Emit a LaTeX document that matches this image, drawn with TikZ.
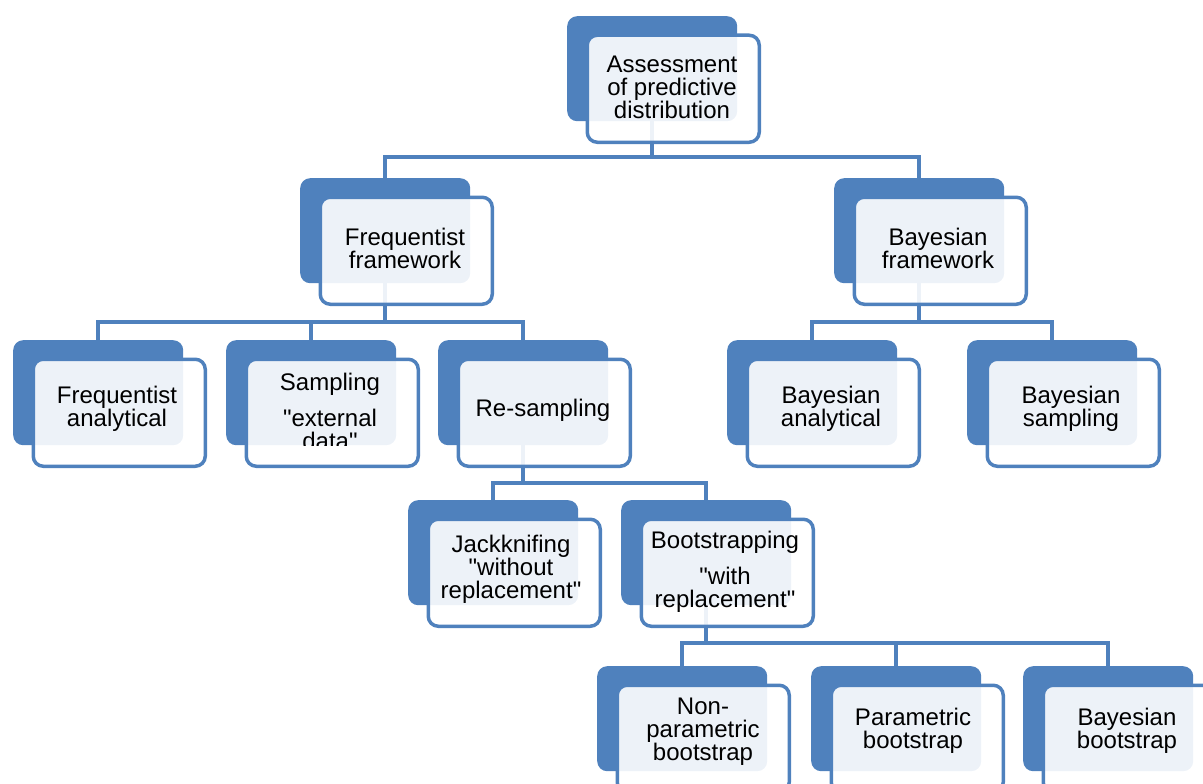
\documentclass[tikz,border=0pt]{standalone}
\usepackage{tikz}
\usepackage{fontspec}
\newfontfamily\arialf{Liberation Sans}
\definecolor{ob}{HTML}{4F81BD}
\pgfdeclarelayer{bg}
\pgfsetlayers{bg,main}
\tikzset{
  backbox/.style={draw=none, fill=ob, rounded corners=10pt, minimum width=170pt, minimum height=105pt, inner sep=0pt, anchor=north west},
  frontbox/.style={draw=ob, line width=3.5pt, fill=white, fill opacity=0.9, rounded corners=10pt, minimum width=172pt, minimum height=107pt, inner sep=0pt, anchor=north west},
  lbl/.style={align=center, font=\arialf\fontsize{24}{23}\selectfont, text=black, inner sep=0pt},
  conn/.style={draw=ob, line width=4pt},
}
\newcommand\twobox[3]{%
  \node[backbox] (#1b) at (#2,#3) {};
  \node[frontbox] (#1f) at ([shift={(18.5,17.5)}]#2,#3) {};}
\begin{document}
\begin{tikzpicture}[x=1pt,y=-1pt]
\useasboundingbox (0,0) rectangle (1203,784);
\clip (0,0) rectangle (1203,784);
% boxes
\twobox{root}{567}{16}
\twobox{FF}{300}{178}
\twobox{BF}{834}{178}
\twobox{FA}{13}{340}
\twobox{SA}{226}{340}
\twobox{RS}{438}{340}
\twobox{BA}{727}{340}
\twobox{BS}{967}{340}
\twobox{JK}{408}{500}
\twobox{BO}{621}{500}
\twobox{NP}{597}{666}
\twobox{PB}{811}{666}
\twobox{BB}{1023}{666}
% bus heights
\coordinate (busA) at (0,157);
\coordinate (busB) at (0,322);
\coordinate (busC) at (0,483);
\coordinate (busD) at (0,643);
% connectors
\begin{pgfonlayer}{bg}
\draw[conn] (rootb.center) -- (rootb.center |- busA);
\draw[conn] (FFb.north) -- (FFb.north |- busA) -- (BFb.north |- busA) -- (BFb.north);
\draw[conn] (FFb.center) -- (FFb.center |- busB);
\draw[conn] (FAb.north) -- (FAb.north |- busB) -- (RSb.north |- busB) -- (RSb.north);
\draw[conn] (SAb.north) -- (SAb.north |- busB);
\draw[conn] (BFb.center) -- (BFb.center |- busB);
\draw[conn] (BAb.north) -- (BAb.north |- busB) -- (BSb.north |- busB) -- (BSb.north);
\draw[conn] (RSb.center) -- (RSb.center |- busC);
\draw[conn] (JKb.north) -- (JKb.north |- busC) -- (BOb.north |- busC) -- (BOb.north);
\draw[conn] (BOb.center) -- (BOb.center |- busD);
\draw[conn] (NPb.north) -- (NPb.north |- busD) -- (BBb.north |- busD) -- (BBb.north);
\draw[conn] (PBb.north) -- (PBb.north |- busD);
\end{pgfonlayer}
% labels
\node[lbl] (rootT) at (672,87) {Assessment\\of predictive\\distribution};
\node[lbl] (FFT) at (405,248) {Frequentist\\framework};
\node[lbl] (BFT) at (938,248) {Bayesian\\framework};
\node[lbl] (FAT) at (117,409) {Frequentist\\analytical};
\begin{scope}
\clip (SAf.north west) rectangle (SAf.east |- SAb.south);
\node[lbl] (SAT) at (330,411) {Sampling\\[13pt]"external\\data"};
\end{scope}
\node[lbl] (RST) at (543,410) {Re-sampling};
\node[lbl] (BAT) at (831,409) {Bayesian\\analytical};
\node[lbl] (BST) at (1071,409) {Bayesian\\sampling};
\node[lbl] (JKT) at (511,569) {Jackknifing\\"without\\replacement"};
\node[lbl] (BOT) at (725,572) {Bootstrapping\\[13pt]"with\\replacement"};
\node[lbl] (NPT) at (703,732) {Non-\\parametric\\bootstrap};
\node[lbl] (PBT) at (913,731) {Parametric\\bootstrap};
\node[lbl] (BBT) at (1127,731) {Bayesian\\bootstrap};
\end{tikzpicture}
\end{document}
